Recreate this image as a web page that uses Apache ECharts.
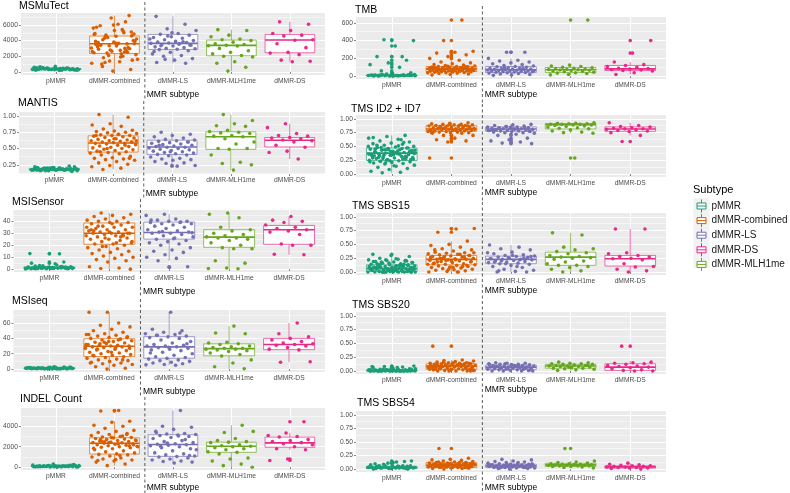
<!DOCTYPE html>
<html><head><meta charset="utf-8">
<script src="https://cdn.jsdelivr.net/npm/echarts@6/dist/echarts.min.js"></script>
<style>html,body{margin:0;padding:0;background:#fff}#c{width:790px;height:493px}</style>
</head><body><div id="c"></div><script>
// ---------- categories / labels ----------
const categories = ['pMMR', 'dMMR-combined', 'dMMR-LS', 'dMMR-MLH1me', 'dMMR-DS'];
const legendOrder = ['pMMR', 'dMMR-combined', 'dMMR-LS', 'dMMR-DS', 'dMMR-MLH1me'];
const subtypeColors = ['#1B9E77', '#D95F02', '#7570B3', '#66A61E', '#E7298A'];
const panelTitles = ['MSMuTect', 'MANTIS', 'MSISensor', 'MSIseq', 'INDEL Count',
  'TMB', 'TMS ID2 + ID7', 'TMS SBS15', 'TMS SBS20', 'TMS SBS54'];
const xAxisTitle = 'MMR subtype';
const legendTitle = 'Subtype';

// ---------- tick labels ----------
const ticksMSMuTect = ['0', '2000', '4000', '6000'];
const ticksMANTIS = ['0.25', '0.50', '0.75', '1.00'];
const ticksMSISensor = ['0', '10', '20', '30', '40'];
const ticksMSIseq = ['0', '20', '40', '60'];
const ticksINDEL = ['0', '2000', '4000'];
const ticksTMB = ['0', '200', '400', '600'];
const ticksFraction = ['0.00', '0.25', '0.50', '0.75', '1.00'];

// ---------- box statistics: [lower whisker, Q1, median, Q3, upper whisker], per category ----------
const boxMSMuTect = [[180, 290, 350, 430, 700], [0, 2355, 3597, 4582, 7200], [1100, 2869, 3640, 4796, 7100], [100, 2055, 3383, 4068, 5400], [1300, 2441, 4068, 4796, 6400]];
const boxMANTIS = [[0.15, 0.17, 0.18, 0.195, 0.23], [0.18, 0.446, 0.586, 0.695, 1.02], [0.265, 0.41, 0.524, 0.628, 0.75], [0.17, 0.488, 0.68, 0.757, 1.02], [0.34, 0.524, 0.628, 0.669, 0.88]];
const boxMSISensor = [[0, 0.5, 1, 2, 4.5], [0, 20.8, 30.1, 38.6, 47], [7, 25.1, 30.7, 39.4, 46], [0.3, 18.3, 26.8, 33, 47], [12, 20.8, 33, 36.6, 44]];
const boxMSIseq = [[0, 0.5, 1, 1.5, 3], [0, 16.4, 29.8, 39.6, 74], [5, 14.2, 28.9, 42.2, 74], [0.5, 17.3, 26.7, 32.9, 56], [9, 25.3, 32, 40, 60]];
const boxINDEL = [[20, 50, 90, 140, 300], [150, 1289, 2347, 2876, 4500], [400, 1058, 2215, 3174, 5550], [0, 1454, 2050, 2446, 4100], [1700, 1950, 2380, 2942, 3350]];
const boxTMB = [[0, 5, 9, 14, 28], [15, 53, 83, 109, 190], [10, 42, 72, 109, 200], [15, 42, 72, 98, 125], [20, 64, 83, 121, 160]];
const boxID2ID7 = [[0.02, 0.244, 0.378, 0.47, 0.7], [0.74, 0.774, 0.817, 0.878, 0.93], [0.74, 0.774, 0.817, 0.854, 0.9], [0.74, 0.817, 0.896, 0.915, 0.93], [0.7, 0.774, 0.817, 0.854, 0.93]];
const boxSBS15 = [[0, 0.01, 0.06, 0.13, 0.3], [0, 0.13, 0.228, 0.3, 0.56], [0, 0.15, 0.228, 0.287, 0.49], [0, 0.12, 0.27, 0.36, 0.71], [0, 0.108, 0.24, 0.3, 0.78]];
const boxSBS20 = [[0, 0, 0.005, 0.02, 0.05], [0, 0.03, 0.09, 0.13, 0.2], [0, 0.03, 0.07, 0.108, 0.15], [0.01, 0.05, 0.09, 0.12, 0.16], [0, 0.01, 0.07, 0.13, 0.18]];
const boxSBS54 = [[0, 0.01, 0.03, 0.05, 0.1], [0, 0.03, 0.07, 0.12, 0.2], [0, 0.03, 0.06, 0.09, 0.18], [0.02, 0.048, 0.078, 0.108, 0.15], [0, 0.018, 0.042, 0.06, 0.11]];

// ---------- sample values (one list per category: pMMR, combined, LS, MLH1me, DS) ----------
const ptsMSMuTect = [
  [310,250,420,380,290,520,340,460,200,370,410,280,330,600,450,360,240,390,310,480,350,270,430,560,320,400,220,370,500,290,340,650,410,300,380,260,440,350,700,330,470,300,390,180,420],
  [4800,5200,4500,3600,3300,2900,2500,1400,1100,1900,4100,4600,3800,3500,3000,2400,2200,6100,5900,7200,6900,5600,5400,4300,4000,3700,3200,2700,2100,1600,1300,1000,300,100,4900,5000,4700,3900,3550,3450,3100,2800,2600,2300,1800,1500,5300,5700,6400,4400,4200,3650,3400,2950,2650,2450,2000,1200,4850,4550,3750,3580,3350,3050,2750,700,5100,6000,3900,2550],
  [7100,6100,5500,5300,4900,4800,4700,4500,4400,4300,4100,4000,3900,3800,3750,3700,3650,3600,3500,3400,3300,3200,3100,3000,2950,2900,2850,2700,2500,2300,2100,2000,1700,1500,1200,1100,4600,4200,3550,3350,3450,5000,2600,3850,1600],
  [5400,5300,4700,4500,4200,4100,4000,3800,3600,3500,3400,3350,3300,3000,2700,2500,2300,2100,2000,1900,1300,1100,600,100],
  [6400,6100,5300,4900,4700,4600,4100,4050,3600,3100,2500,2400,2200,1500,1350,1300]
];
const ptsMANTIS = [
  [0.17,0.18,0.19,0.16,0.2,0.18,0.17,0.21,0.19,0.18,0.16,0.22,0.17,0.19,0.18,0.2,0.17,0.18,0.19,0.15,0.21,0.18,0.17,0.2,0.19,0.18,0.16,0.23,0.18,0.17,0.19,0.2,0.18,0.17,0.21,0.19,0.16,0.18,0.2,0.17,0.19,0.18,0.22,0.17,0.18],
  [1.02,0.98,0.88,0.86,0.84,0.8,0.78,0.77,0.76,0.75,0.74,0.73,0.72,0.71,0.7,0.7,0.69,0.68,0.67,0.66,0.65,0.64,0.63,0.62,0.62,0.61,0.6,0.6,0.59,0.58,0.58,0.57,0.56,0.55,0.54,0.53,0.52,0.51,0.5,0.49,0.48,0.47,0.46,0.45,0.44,0.43,0.42,0.4,0.38,0.36,0.35,0.34,0.33,0.32,0.3,0.28,0.26,0.24,0.22,0.2,0.18,0.6,0.65,0.7,0.55,0.5,0.62,0.72,0.45,0.35],
  [0.75,0.72,0.7,0.68,0.66,0.64,0.63,0.62,0.61,0.6,0.59,0.58,0.57,0.56,0.55,0.54,0.53,0.52,0.52,0.51,0.5,0.49,0.48,0.47,0.46,0.45,0.44,0.43,0.42,0.41,0.4,0.39,0.37,0.35,0.34,0.33,0.32,0.3,0.28,0.27,0.24,0.23,0.55,0.6,0.45],
  [1.02,0.93,0.88,0.85,0.84,0.78,0.76,0.75,0.74,0.73,0.7,0.69,0.68,0.65,0.6,0.57,0.5,0.5,0.49,0.4,0.29,0.27,0.25,0.17],
  [0.88,0.82,0.73,0.7,0.69,0.67,0.66,0.65,0.63,0.62,0.6,0.55,0.52,0.46,0.44,0.34]
];
const ptsMSISensor = [
  [0.5,1,1.5,0.3,2,0.8,1.2,0.6,2.5,1,0.4,1.8,0.7,3,1.1,0.5,0.9,2.2,1.4,0.2,4.5,1,0.6,1.6,13,12.8,0.8,2,1.3,0.5,6,1,0.7,3.5,1.5,0.4,1.2,5,0.9,2.8,0.6,1.1,0.3,1.7,0.8],
  [47,46,45,44,43,42,41,40,40,39,39,38,37,36,35,35,34,33,33,32,31,31,30,30,30,29,29,28,28,27,26,25,25,24,23,22,21,21,20,19,18,17,16,15,14,13,12,11,10,9,8,7,6,2,1,0.5,0,38,32,28,26,35,22,36,30,31,33,27,19,23],
  [46,45,42,41,40,40,39,39,38,38,37,36,35,34,33,32,31,31,30,30,29,28,27,26,25,24,23,22,21,20,18,16,15,14,12,10,9,7,2,1.5,41,39.5,31.5,30.5,25.5],
  [47,46,43,35,33,32,30,29,28,27,26,26,25,24,22,20,18,17,17,7,5,1,0.5,0.3],
  [44,41,40,39,37,35,34,33,32,31,29,21,20,20,12.5,12]
];
const ptsMSIseq = [
  [0.5,1,0.8,1.5,0.3,2,1.2,0.6,0.9,1.8,0.4,1.1,2.5,0.7,1.3,0.2,1.6,0.9,2.2,0.5,1,1.4,0.8,3,0.6,1.2,0.3,1.9,0.7,1.1,2.8,0.4,1.5,0.9,0.6,1.3,2,0.8,1,0.5,1.7,0.3,1.2,0.9,2.4],
  [74,74,60,57,55,52,50,48,46,45,44,43,42,41,40,39,38,37,36,35,34,33,32,31,31,30,30,29,29,28,27,26,25,24,23,22,21,20,19,18,17,16,15,14,13,12,11,10,9,8,7,6,5,3,1,0,45,38,33,27,22,18,12,35,32,28,26,41,36,8],
  [74,52,50,48,46,45,44,43,42,41,40,38,36,34,32,31,30,30,29,28,27,26,25,24,22,20,18,16,15,14,13,12,11,10,9,8,7,6,5.5,5,44,33,28.5,21,47],
  [56,47,46,35,34,33,32,30,29,28,27,27,26,26,25,24,23,21,19,17,12,8,3,0.5],
  [60,46,42,40,38,36,34,33,32,31,30,28,26,25,9,9.5]
];
const ptsINDEL = [
  [50,80,120,30,150,60,100,200,40,90,70,130,20,110,60,180,90,40,140,75,250,100,55,85,160,35,95,65,120,300,45,105,80,170,25,130,70,90,210,50,115,60,140,80,100],
  [5550,5500,4500,4400,4100,4000,3800,3600,3500,3400,3300,3200,3100,3000,2950,2900,2850,2800,2750,2700,2650,2600,2550,2500,2450,2400,2380,2350,2300,2250,2200,2150,2100,2050,2000,1950,1900,1800,1700,1600,1500,1400,1300,1250,1200,1100,1000,900,800,700,600,500,300,150,2600,2300,2700,2100,2900,1850,3050,2480,2200,750,650,3200,2400,2000,1150,2520],
  [5550,4000,3900,3700,3500,3300,3250,3200,3150,3100,3000,2900,2800,2600,2500,2400,2300,2250,2200,2150,2100,2000,1900,1800,1600,1400,1300,1200,1100,1050,1000,900,800,700,600,550,500,400,3400,2700,2350,1700,3050,2050,1150],
  [4100,3400,3500,2800,2600,2500,2450,2400,2200,2100,2050,2000,1900,1800,1700,1500,1450,1300,900,800,600,300,150,0],
  [4450,3350,3100,3000,2950,2700,2600,2500,2400,2300,2200,2000,1800,1700,800,650]
];
const ptsTMB = [
  [5,10,8,12,3,15,7,20,9,6,11,4,14,8,18,10,2,13,7,25,9,5,12,16,6,10,220,410,400,340,220,180,150,130,100,60,40,30,11,8,13,6,9,4,12],
  [630,400,280,270,260,240,220,200,180,160,150,140,130,125,120,115,110,108,105,102,100,98,95,92,90,88,86,84,82,80,78,76,74,72,70,68,66,64,62,60,58,56,54,52,50,48,45,42,40,38,35,30,25,20,15,95,85,75,65,55,105,112,88,79,70,60,50,100,90,80],
  [270,270,200,180,170,160,150,140,130,120,115,110,105,100,95,90,88,85,82,80,78,75,72,70,68,65,62,60,58,55,52,50,48,45,42,40,35,30,25,20,15,10,85,95,65],
  [630,125,115,110,100,95,90,85,80,78,75,72,70,68,65,60,55,50,45,40,35,30,20,15],
  [400,260,160,130,120,110,100,90,85,80,75,70,65,60,40,20]
];
const ptsID2ID7 = [
  [0.7,0.68,0.65,0.63,0.6,0.58,0.56,0.55,0.54,0.52,0.5,0.49,0.48,0.47,0.46,0.45,0.44,0.43,0.42,0.41,0.4,0.39,0.38,0.38,0.37,0.36,0.35,0.34,0.33,0.32,0.31,0.3,0.29,0.28,0.27,0.26,0.25,0.24,0.23,0.22,0.21,0.2,0.19,0.18,0.16,0.14,0.12,0.1,0.08,0.05,0.03,0.02,0.4,0.35,0.45,0.3,0.25,0.5,0.42,0.33,
   0.37,0.41,0.29,0.46,0.34,0.27,0.39,0.52,0.31,0.44,0.22,0.36,0.48,0.26,0.4,0.33,0.57,0.2,0.43,0.38,0.3,0.47,0.24,0.35,0.62,0.28,0.42,0.15,0.39,0.32,0.45,0.36,0.51,0.23,0.41,0.34,0.66,0.27,0.44,0.37],
  [0.93,0.92,0.91,0.9,0.9,0.89,0.89,0.88,0.88,0.87,0.87,0.86,0.86,0.85,0.85,0.84,0.84,0.83,0.83,0.82,0.82,0.81,0.81,0.8,0.8,0.8,0.79,0.79,0.78,0.78,0.77,0.77,0.76,0.76,0.75,0.75,0.74,0.74,0.7,0.7,0.65,0.62,0.6,0.58,0.29,0.88,0.85,0.82,0.8,0.78,0.86,0.84,0.81,0.79,0.83,0.87,0.9,0.76,0.8,0.82],
  [0.9,0.89,0.88,0.87,0.86,0.85,0.85,0.84,0.84,0.83,0.83,0.82,0.82,0.81,0.81,0.8,0.8,0.79,0.79,0.78,0.78,0.77,0.77,0.76,0.75,0.75,0.74,0.72,0.7,0.65,0.62,0.6,0.58,0.56,0.55,0.82,0.8,0.84,0.86,0.79,0.81,0.83,0.78,0.85,0.8],
  [0.93,0.92,0.92,0.91,0.91,0.9,0.9,0.9,0.89,0.89,0.88,0.87,0.86,0.85,0.84,0.83,0.82,0.8,0.78,0.76,0.75,0.74,0.29,0.9],
  [0.93,0.88,0.86,0.85,0.84,0.83,0.82,0.82,0.81,0.8,0.79,0.78,0.77,0.75,0.7,0.59]
];
const ptsSBS15 = [
  [0,0,0,0,0,0,0.01,0.01,0.02,0.02,0.03,0.03,0.04,0.04,0.05,0.05,0.06,0.06,0.07,0.07,0.08,0.08,0.09,0.09,0.1,0.1,0.11,0.11,0.12,0.12,0.13,0.14,0.15,0.16,0.17,0.18,0.19,0.2,0.21,0.22,0.23,0.25,0.28,0.3,0.32,0.01,0,0.05,0.1,0.15,0.2,0.03,0.07,0.12,0.18,0,0.02,0.08,0.14,0.22,
   0,0.04,0.09,0.13,0.01,0.06,0.11,0,0.17,0.02,0.08,0.21,0.05,0.1,0,0.14,0.03,0.07,0.19,0.12,0,0.06,0.24,0.09,0.01,0.16,0.04,0.11,0,0.08],
  [0.79,0.78,0.72,0.56,0.5,0.48,0.45,0.42,0.4,0.38,0.36,0.35,0.34,0.33,0.32,0.31,0.3,0.29,0.28,0.27,0.26,0.25,0.24,0.23,0.23,0.22,0.21,0.2,0.19,0.18,0.17,0.16,0.15,0.14,0.13,0.12,0.11,0.1,0.09,0.08,0.07,0.06,0.05,0.04,0.03,0.02,0.01,0,0,0.25,0.3,0.2,0.15,0.1,0.28,0.35,0.22,0.18,0.12,0.05,0.26,0.32,0.24,0.19,0.08,0.4,0.27,0.21,0.14,0],
  [0.49,0.45,0.42,0.4,0.36,0.33,0.31,0.3,0.29,0.28,0.27,0.26,0.25,0.24,0.23,0.23,0.22,0.21,0.2,0.19,0.18,0.17,0.16,0.15,0.14,0.12,0.1,0.08,0.05,0.03,0.01,0,0,0.26,0.24,0.22,0.2,0.28,0.3,0.18,0.25,0.15,0.35,0.1,0.02],
  [0.71,0.67,0.45,0.42,0.4,0.37,0.35,0.33,0.3,0.28,0.27,0.26,0.25,0.23,0.2,0.18,0.15,0.12,0.12,0.1,0.08,0.05,0.02,0],
  [0.78,0.78,0.35,0.33,0.3,0.28,0.27,0.25,0.24,0.22,0.15,0.1,0.09,0.05,0.02,0]
];
const ptsSBS20 = [
  [0,0,0,0,0,0,0,0,0,0,0,0,0,0,0.005,0.01,0.01,0.01,0.015,0.02,0.02,0.02,0.03,0.03,0.04,0.05,0.06,0.07,0.08,0.09,0,0,0,0.01,0.02,0,0,0.03,0.05,0.01,0,0.02,0.04,0.06,0,0.01,0,0.08,0,0.03],
  [0.45,0.2,0.19,0.18,0.17,0.16,0.15,0.15,0.14,0.14,0.13,0.13,0.12,0.12,0.11,0.11,0.1,0.1,0.09,0.09,0.09,0.08,0.08,0.08,0.07,0.07,0.06,0.06,0.05,0.05,0.04,0.04,0.03,0.03,0.02,0.02,0.01,0.01,0,0,0,0,0.1,0.12,0.08,0.05,0.15,0.03,0.13,0.09,0.07,0.11,0.04,0.14,0.02,0.06,0.1,0.16,0.01,0.08,0.12,0.05,0.09,0.03,0.11,0.07,0,0.13,0.06,0.1],
  [0.15,0.14,0.14,0.13,0.12,0.12,0.11,0.11,0.1,0.1,0.09,0.09,0.08,0.08,0.07,0.07,0.07,0.06,0.06,0.05,0.05,0.04,0.04,0.03,0.03,0.02,0.02,0.01,0.01,0,0,0,0,0.1,0.08,0.06,0.04,0.12,0.09,0.05,0.02,0.11,0.07,0.03,0.13],
  [0.16,0.15,0.14,0.13,0.13,0.12,0.12,0.11,0.1,0.1,0.09,0.09,0.08,0.08,0.07,0.06,0.05,0.05,0.04,0.03,0.02,0.01,0.1,0.07],
  [0.45,0.16,0.15,0.14,0.13,0.12,0.1,0.09,0.08,0.07,0.06,0.04,0.02,0.01,0,0]
];
const ptsSBS54 = [
  [0.01,0.02,0.03,0.04,0.05,0.02,0.03,0.01,0,0.06,0.07,0.03,0.02,0.04,0.05,0.01,0.08,0.03,0.02,0.15,0.12,0.1,0.14,0.04,0.03,0.05,0.06,0.02,0.01,0.03,0.04,0.09,0.02,0.03,0.05,0.01,0.11,0.04,0.02,0.03,0.06,0.07,0.01,0.02,0.04,0.03,0.13,0.05,0,0.02],
  [0.38,0.2,0.18,0.17,0.16,0.15,0.14,0.13,0.12,0.12,0.11,0.11,0.1,0.1,0.1,0.09,0.09,0.09,0.08,0.08,0.08,0.07,0.07,0.07,0.06,0.06,0.06,0.05,0.05,0.05,0.04,0.04,0.04,0.03,0.03,0.02,0.02,0.01,0.01,0,0.09,0.07,0.05,0.11,0.08,0.06,0.12,0.04,0.1,0.03,0.07,0.09,0.05,0.08,0.06,0.13,0.02,0.1,0.07,0.04,0.08,0.11,0.06,0.09,0.03,0.05,0.07,0.1,0.08,0.06],
  [0.18,0.17,0.15,0.14,0.13,0.12,0.11,0.1,0.1,0.09,0.09,0.08,0.08,0.07,0.07,0.06,0.06,0.06,0.05,0.05,0.05,0.04,0.04,0.04,0.03,0.03,0.03,0.02,0.02,0.01,0.01,0,0.08,0.06,0.04,0.1,0.07,0.05,0.03,0.09,0.06,0.12,0.02,0.07,0.05],
  [0.38,0.15,0.13,0.12,0.11,0.1,0.1,0.09,0.09,0.08,0.08,0.08,0.07,0.07,0.07,0.06,0.06,0.06,0.05,0.05,0.04,0.03,0.02,0.08],
  [0.11,0.09,0.08,0.07,0.06,0.06,0.05,0.05,0.04,0.04,0.03,0.03,0.02,0.02,0.01,0]
];

const panelTicks = [ticksMSMuTect, ticksMANTIS, ticksMSISensor, ticksMSIseq, ticksINDEL, ticksTMB, ticksFraction, ticksFraction, ticksFraction, ticksFraction];
const panelBoxes = [boxMSMuTect, boxMANTIS, boxMSISensor, boxMSIseq, boxINDEL, boxTMB, boxID2ID7, boxSBS15, boxSBS20, boxSBS54];
const panelPoints = [ptsMSMuTect, ptsMANTIS, ptsMSISensor, ptsMSIseq, ptsINDEL, ptsTMB, ptsID2ID7, ptsSBS15, ptsSBS20, ptsSBS54];

// ---------- layout (pixels / axis ranges) ----------
const FONT = "'Liberation Sans', Arial, sans-serif";
const layout = [
  {left: 18, top: 13, min: -400, max: 7530, tLeft: 19, tTop: 1, gap: 15},
  {left: 17, top: 112, min: 0.11, max: 1.06, tLeft: 18, tTop: 98, gap: 15},
  {left: 13, top: 210, min: -2.4, max: 49.5, tLeft: 12, tTop: 197, gap: 15},
  {left: 13, top: 310, min: -3.8, max: 77, tLeft: 12, tTop: 296, gap: 15},
  {left: 18, top: 408, min: -275, max: 5790, tLeft: 20, tTop: 394, gap: 13},
  {left: 356, top: 17, min: -31, max: 665, tLeft: 355, tTop: 5, gap: 10},
  {left: 356, top: 115, min: -0.055, max: 1.07, tLeft: 351, tTop: 104, gap: 10},
  {left: 356, top: 213, min: -0.055, max: 1.07, tLeft: 352, tTop: 201, gap: 10},
  {left: 356, top: 312, min: -0.055, max: 1.07, tLeft: 352, tTop: 300, gap: 10},
  {left: 356, top: 411, min: -0.055, max: 1.07, tLeft: 357, tTop: 398, gap: 9}
];
const RIGHT_EDGE = [325, 325, 325, 325, 325, 666, 666, 666, 666, 666];
const PANEL_H = 62;
const BOX_W = 0.85;

function minorValues(vals, min, max) {
  const d = vals[1] - vals[0];
  const ext = [vals[0] - d].concat(vals, [vals[vals.length - 1] + d]);
  const out = [];
  for (let i = 0; i < ext.length - 1; i++) {
    const m = (ext[i] + ext[i + 1]) / 2;
    if (m > min && m < max) out.push(m);
  }
  return out;
}
// deterministic spread of points across +-0.4 of a category band (position of the jitter)
function jitter(i, seed) {
  const f = (i * 0.6180339887 + seed) % 1;
  return (f - 0.5) * 0.8;
}

const grids = [], xAxes = [], yAxes = [], series = [], titles = [];
const catVals = [1, 2, 3, 4, 5];

layout.forEach((L, p) => {
  const tickLabels = panelTicks[p];
  const tickVals = tickLabels.map(Number);
  grids.push({left: L.left, top: L.top, width: RIGHT_EDGE[p] - L.left, height: PANEL_H,
    show: true, backgroundColor: '#EBEBEB', borderWidth: 0});
  xAxes.push({
    gridIndex: p, type: 'value', min: 0.4, max: 5.6,
    name: xAxisTitle, nameLocation: 'middle', nameGap: L.gap,
    nameTextStyle: {fontSize: 8.5, color: '#000', fontFamily: FONT},
    axisLine: {show: false},
    axisTick: {show: true, length: 2, customValues: catVals, lineStyle: {color: '#333', width: 0.6}},
    axisLabel: {customValues: catVals, margin: 3, fontSize: 6.7, color: '#4D4D4D', fontFamily: FONT,
      formatter: v => categories[Math.round(v) - 1] || ''},
    splitLine: {show: true, lineStyle: {color: '#fff', width: 1}}
  });
  yAxes.push({
    gridIndex: p, type: 'value', min: L.min, max: L.max,
    axisLine: {show: false},
    axisTick: {show: true, length: 2, customValues: tickVals, lineStyle: {color: '#333', width: 0.6}},
    axisLabel: {customValues: tickVals, margin: 3, fontSize: 6.7, color: '#4D4D4D', fontFamily: FONT,
      formatter: v => {
        let best = 0;
        tickVals.forEach((t, k) => { if (Math.abs(t - v) < Math.abs(tickVals[best] - v)) best = k; });
        return tickLabels[best];
      }},
    splitLine: {show: true, lineStyle: {color: '#fff', width: 1}}
  });
  yAxes.push({
    gridIndex: p, type: 'value', min: L.min, max: L.max, position: 'left',
    axisLine: {show: false}, axisLabel: {show: false},
    axisTick: {show: false, customValues: minorValues(tickVals, L.min, L.max)},
    splitLine: {show: true, lineStyle: {color: '#fff', width: 0.5}}
  });
  titles.push({text: panelTitles[p], left: L.tLeft, top: L.tTop, padding: 0,
    textStyle: {fontSize: 10.5, fontWeight: 'normal', color: '#000', fontFamily: FONT}});

  const boxes = panelBoxes[p];
  series.push({
    type: 'custom', xAxisIndex: p, yAxisIndex: 2 * p, silent: true, z: 2,
    encode: {x: 0, y: [1, 2, 3, 4, 5]},
    data: boxes.map((b, c) => [c + 1].concat(b)),
    renderItem: (params, api) => {
      const x = api.value(0);
      const col = subtypeColors[params.dataIndex];
      const lo = api.coord([x, api.value(1)]), q1 = api.coord([x, api.value(2)]);
      const md = api.coord([x, api.value(3)]), q3 = api.coord([x, api.value(4)]);
      const hi = api.coord([x, api.value(5)]);
      const hw = api.size([BOX_W, 0])[0] / 2;
      const ls = {stroke: col, lineWidth: 0.8, opacity: 0.85};
      return {type: 'group', children: [
        {type: 'line', shape: {x1: lo[0], y1: lo[1], x2: q1[0], y2: q1[1]}, style: ls},
        {type: 'line', shape: {x1: q3[0], y1: q3[1], x2: hi[0], y2: hi[1]}, style: ls},
        {type: 'rect', shape: {x: q3[0] - hw, y: q3[1], width: 2 * hw, height: Math.max(q1[1] - q3[1], 0.5)},
          style: {fill: '#fff', stroke: col, lineWidth: 0.8, opacity: 0.85}},
        {type: 'line', shape: {x1: md[0] - hw, y1: md[1], x2: md[0] + hw, y2: md[1]}, style: {stroke: col, lineWidth: 1.6}}
      ]};
    }
  });
  panelPoints[p].forEach((vals, c) => {
    const b = boxes[c];
    const data = vals.map((v, i) => [c + 1 + jitter(i, 0.13 * p + 0.07 * c), v]);
    vals.forEach(v => { if (v < b[0] - 1e-9 || v > b[4] + 1e-9) data.push([c + 1, v]); }); // boxplot outliers
    series.push({
      type: 'scatter', name: categories[c], xAxisIndex: p, yAxisIndex: 2 * p, z: 3, silent: true,
      symbol: 'circle', symbolSize: 3.6, itemStyle: {color: subtypeColors[c], opacity: 1},
      data: data
    });
  });
});

titles.push({text: legendTitle, left: 693, top: 184, padding: 0,
  textStyle: {fontSize: 11, fontWeight: 'normal', color: '#000', fontFamily: FONT}});

const BOX_ICON = 'path://M5,0L5,3.5M0.5,3.5L9.5,3.5L9.5,9.5L0.5,9.5ZM0.5,6.5L9.5,6.5M5,9.5L5,13';

const chart = echarts.init(document.getElementById('c'), null, {renderer: 'canvas'});
chart.setOption({
  animation: false,
  textStyle: {fontFamily: FONT},
  title: titles,
  grid: grids, xAxis: xAxes, yAxis: yAxes, series: series,
  legend: {
    orient: 'vertical', left: 696.5, top: 199, padding: 0, itemGap: 0.6,
    itemWidth: 10, itemHeight: 13, selectedMode: false,
    textStyle: {fontSize: 10, color: '#1A1A1A', fontFamily: FONT},
    data: legendOrder.map(n => ({name: n, icon: BOX_ICON,
      itemStyle: {color: '#fff', borderColor: subtypeColors[categories.indexOf(n)], borderWidth: 1}}))
  }
});

// dashed separators between dMMR-combined and the individual subtypes, one per panel
const graphics = [{type: 'rect', shape: {x: 693.5, y: 198, width: 16, height: 70}, style: {fill: '#F2F2F2'}, z: 0}];
layout.forEach((L, p) => {
  const top = chart.convertToPixel({xAxisIndex: p, yAxisIndex: 2 * p}, [2.52, L.max]);
  const bot = chart.convertToPixel({xAxisIndex: p, yAxisIndex: 2 * p}, [2.52, L.min]);
  graphics.push({type: 'line', z: 50, silent: true,
    shape: {x1: top[0], y1: top[1] - 11, x2: bot[0], y2: bot[1] + 25},
    style: {stroke: '#333', lineWidth: 0.8, lineDash: [3, 2.5]}});
});
chart.setOption({graphic: graphics});
</script></body></html>
